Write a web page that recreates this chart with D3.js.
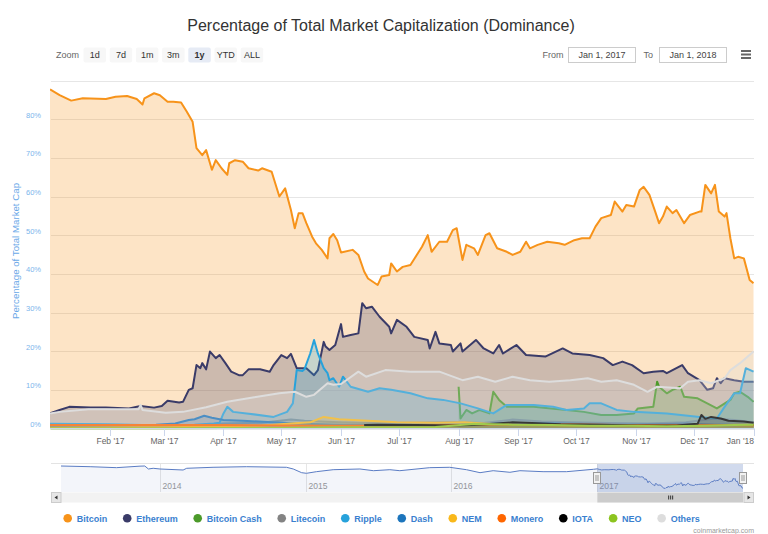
<!DOCTYPE html>
<html><head><meta charset="utf-8">
<script src="https://cdn.jsdelivr.net/npm/d3@7"></script>
<style>
body{margin:0;background:#fff;}
svg{display:block;font-family:"Liberation Sans",Arial,Helvetica,sans-serif;}
</style>
</head><body>
<svg id="c" width="768" height="534"></svg>
<script>
// ---------------- DATA ----------------
const titleText = "Percentage of Total Market Capitalization (Dominance)";
const seriesNames = ["Bitcoin","Ethereum","Bitcoin Cash","Litecoin","Ripple","Dash","NEM","Monero","IOTA","NEO","Others"];
const seriesColors = ["#f7931a","#3a3b68","#4c9a2a","#838383","#27a2db","#1c75bc","#f9b81b","#ff6600","#000000","#8cc41f","#dddddd"];
const zoomButtons = ["1d","7d","1m","3m","1y","YTD","ALL"];
const yTicks = [0,10,20,30,40,50,60,70,80,90];
const navYears = ["2014","2015","2016","2017"];

const bitcoin = [["2017-01-01",87.7],["2017-01-06",86.2],["2017-01-12",84.8],["2017-01-18",85.4],["2017-01-30",85.2],["2017-02-04",85.8],["2017-02-10",86.0],["2017-02-15",85.2],["2017-02-18",83.8],["2017-02-19",85.4],["2017-02-24",86.7],["2017-02-27",86.2],["2017-03-03",84.5],["2017-03-06",84.5],["2017-03-10",84.3],["2017-03-13",81.9],["2017-03-16",79.3],["2017-03-18",72.5],["2017-03-21",70.7],["2017-03-23",72.0],["2017-03-26",66.9],["2017-03-28",69.4],["2017-03-31",67.3],["2017-04-03",65.6],["2017-04-04",68.6],["2017-04-07",69.4],["2017-04-11",69.0],["2017-04-14",67.3],["2017-04-19",66.7],["2017-04-21",67.3],["2017-04-26",66.4],["2017-04-30",60.0],["2017-05-03",62.1],["2017-05-06",56.5],["2017-05-08",51.8],["2017-05-10",55.7],["2017-05-12",55.7],["2017-05-14",53.1],["2017-05-17",49.6],["2017-05-19",47.9],["2017-05-22",46.2],["2017-05-25",44.0],["2017-05-26",49.2],["2017-05-28",50.3],["2017-05-30",48.7],["2017-06-01",45.5],["2017-06-07",46.2],["2017-06-10",44.9],["2017-06-13",40.6],["2017-06-15",38.8],["2017-06-20",37.1],["2017-06-22",39.3],["2017-06-26",39.7],["2017-06-27",42.7],["2017-06-30",40.6],["2017-07-03",41.8],["2017-07-07",42.3],["2017-07-13",47.0],["2017-07-16",50.0],["2017-07-18",45.7],["2017-07-22",48.3],["2017-07-26",48.3],["2017-07-29",51.3],["2017-07-31",51.8],["2017-08-03",43.6],["2017-08-05",47.5],["2017-08-09",46.6],["2017-08-11",44.9],["2017-08-15",50.0],["2017-08-17",50.5],["2017-08-21",46.6],["2017-08-26",45.7],["2017-08-29",44.9],["2017-09-02",45.7],["2017-09-05",48.3],["2017-09-07",46.6],["2017-09-11",47.5],["2017-09-16",48.3],["2017-09-22",47.9],["2017-09-25",47.5],["2017-09-30",48.7],["2017-10-04",49.2],["2017-10-08",49.2],["2017-10-11",52.2],["2017-10-14",54.4],["2017-10-19",55.2],["2017-10-21",58.7],["2017-10-25",56.1],["2017-10-27",57.8],["2017-10-31",57.4],["2017-11-03",61.7],["2017-11-05",62.5],["2017-11-08",60.4],["2017-11-11",56.1],["2017-11-13",53.1],["2017-11-15",54.8],["2017-11-17",57.4],["2017-11-20",55.7],["2017-11-22",56.5],["2017-11-26",53.1],["2017-11-29",55.2],["2017-12-04",56.1],["2017-12-05",56.1],["2017-12-07",63.0],["2017-12-10",60.8],["2017-12-12",63.0],["2017-12-14",56.1],["2017-12-17",54.8],["2017-12-18",55.7],["2017-12-20",49.2],["2017-12-22",44.0],["2017-12-24",44.4],["2017-12-27",44.0],["2017-12-30",38.4],["2018-01-01",37.6]];

const ethereum = [["2017-01-01",3.9],["2017-01-06",4.8],["2017-01-11",5.6],["2017-01-22",5.4],["2017-01-30",5.4],["2017-02-11",5.2],["2017-02-17",5.8],["2017-02-24",5.4],["2017-02-28",5.8],["2017-03-03",7.2],["2017-03-09",6.7],["2017-03-11",6.9],["2017-03-14",10.0],["2017-03-16",10.4],["2017-03-18",16.4],["2017-03-20",15.6],["2017-03-21",16.9],["2017-03-23",15.3],["2017-03-25",19.9],["2017-03-28",18.2],["2017-03-30",19.0],["2017-04-02",16.9],["2017-04-05",14.7],["2017-04-09",13.8],["2017-04-11",13.8],["2017-04-14",15.3],["2017-04-20",15.3],["2017-04-25",14.7],["2017-04-27",16.4],["2017-05-01",19.0],["2017-05-04",18.2],["2017-05-06",19.3],["2017-05-09",15.6],["2017-05-14",15.6],["2017-05-18",13.8],["2017-05-20",15.1],["2017-05-23",22.4],["2017-05-24",21.2],["2017-05-26",20.3],["2017-05-29",21.6],["2017-06-01",27.0],["2017-06-02",23.7],["2017-06-06",24.2],["2017-06-10",24.6],["2017-06-12",32.4],["2017-06-14",31.1],["2017-06-17",31.5],["2017-06-21",28.9],["2017-06-26",26.3],["2017-06-27",24.6],["2017-06-30",28.1],["2017-07-05",26.3],["2017-07-09",23.7],["2017-07-16",22.9],["2017-07-17",20.7],["2017-07-20",25.0],["2017-07-22",22.0],["2017-07-28",21.6],["2017-07-29",19.9],["2017-08-02",22.0],["2017-08-03",19.9],["2017-08-10",22.9],["2017-08-14",20.7],["2017-08-19",19.4],["2017-08-22",21.6],["2017-08-24",19.4],["2017-08-31",21.6],["2017-09-05",19.0],["2017-09-15",18.6],["2017-09-24",20.7],["2017-09-29",19.4],["2017-10-08",19.0],["2017-10-15",18.2],["2017-10-20",16.4],["2017-10-25",17.3],["2017-10-30",16.4],["2017-11-05",14.3],["2017-11-10",14.7],["2017-11-15",14.9],["2017-11-17",14.3],["2017-11-25",16.4],["2017-11-28",14.3],["2017-12-04",12.5],["2017-12-08",10.0],["2017-12-11",10.4],["2017-12-13",13.0],["2017-12-15",11.7],["2017-12-17",13.0],["2017-12-22",12.5],["2017-12-27",12.1],["2018-01-01",12.1]];

const bitcoinCash = [["2017-08-01",10.8],["2017-08-02",2.6],["2017-08-05",4.8],["2017-08-08",3.9],["2017-08-12",4.8],["2017-08-17",3.9],["2017-08-19",9.5],["2017-08-22",7.4],["2017-08-26",5.6],["2017-09-02",5.6],["2017-09-09",5.6],["2017-09-18",5.2],["2017-09-26",4.8],["2017-10-05",4.3],["2017-10-14",3.5],["2017-10-22",3.5],["2017-10-31",3.9],["2017-11-02",5.2],["2017-11-10",5.6],["2017-11-12",12.1],["2017-11-13",10.8],["2017-11-17",9.1],["2017-11-20",10.0],["2017-11-24",10.8],["2017-11-26",8.2],["2017-12-03",7.8],["2017-12-08",6.5],["2017-12-13",5.2],["2017-12-20",7.4],["2017-12-22",9.1],["2017-12-25",9.5],["2017-12-29",8.2],["2018-01-01",6.9]];

const litecoin = [["2017-01-01",1.0],["2017-01-31",0.9],["2017-03-02",0.8],["2017-03-22",1.0],["2017-04-01",1.3],["2017-04-21",1.5],["2017-05-06",2.3],["2017-05-13",2.0],["2017-05-21",1.8],["2017-05-31",1.6],["2017-06-20",1.4],["2017-07-10",1.5],["2017-07-30",1.6],["2017-08-14",1.4],["2017-08-29",2.3],["2017-09-13",1.8],["2017-09-28",1.6],["2017-10-18",1.4],["2017-11-07",1.3],["2017-11-27",1.6],["2017-12-12",2.6],["2017-12-22",2.2],["2018-01-01",1.6]];

const ripple = [["2017-01-01",1.2],["2017-01-31",1.1],["2017-03-02",0.8],["2017-03-17",1.0],["2017-03-27",1.3],["2017-03-30",1.5],["2017-04-01",3.9],["2017-04-03",5.6],["2017-04-06",4.3],["2017-04-13",3.9],["2017-04-27",3.0],["2017-05-04",4.3],["2017-05-07",6.5],["2017-05-09",15.1],["2017-05-12",14.9],["2017-05-13",15.3],["2017-05-16",19.4],["2017-05-18",22.9],["2017-05-20",19.4],["2017-05-23",15.6],["2017-05-25",14.3],["2017-05-26",12.5],["2017-05-28",13.0],["2017-05-31",10.8],["2017-06-02",13.4],["2017-06-06",10.8],["2017-06-15",9.5],["2017-06-21",10.4],["2017-06-27",10.0],["2017-07-07",9.1],["2017-07-16",7.8],["2017-07-24",7.4],["2017-08-02",6.5],["2017-08-11",5.2],["2017-08-19",3.9],["2017-08-26",6.1],["2017-09-09",6.1],["2017-09-19",5.6],["2017-09-26",4.8],["2017-10-05",5.2],["2017-10-08",6.5],["2017-10-14",6.5],["2017-10-22",4.8],["2017-10-31",4.3],["2017-11-17",3.9],["2017-12-04",3.0],["2017-12-13",2.6],["2017-12-17",5.6],["2017-12-22",9.1],["2017-12-25",9.1],["2017-12-28",15.6],["2018-01-01",14.7]];

const dash = [["2017-01-01",0.7],["2017-01-31",0.8],["2017-02-25",1.0],["2017-03-07",1.3],["2017-03-14",2.2],["2017-03-17",2.4],["2017-03-22",3.3],["2017-03-26",2.8],["2017-04-01",2.2],["2017-04-11",2.0],["2017-04-26",1.6],["2017-05-11",1.2],["2017-05-31",1.0],["2017-06-30",1.0],["2017-07-30",1.1],["2017-08-29",1.4],["2017-09-28",1.2],["2017-10-28",1.0],["2017-11-27",1.2],["2017-12-12",1.0],["2018-01-01",0.9]];

const nem = [["2017-01-01",0.2],["2017-03-02",0.3],["2017-04-01",0.5],["2017-04-21",0.8],["2017-05-06",1.3],["2017-05-16",1.6],["2017-05-23",3.0],["2017-05-31",2.4],["2017-06-15",2.0],["2017-06-30",1.6],["2017-07-20",1.5],["2017-08-04",1.6],["2017-08-14",1.3],["2017-09-03",0.9],["2017-10-03",0.7],["2017-11-07",0.6],["2017-12-07",0.8],["2017-12-22",1.0],["2018-01-01",1.0]];

const monero = [["2017-01-01",0.9],["2017-03-02",0.9],["2017-04-01",0.9],["2017-05-01",0.8],["2017-05-31",0.7],["2017-06-30",0.8],["2017-07-30",0.9],["2017-08-29",1.0],["2017-09-28",1.1],["2017-10-28",0.9],["2017-11-27",1.0],["2017-12-17",0.9],["2018-01-01",0.8]];

const iota = [["2017-06-13",0.9],["2017-06-20",1.0],["2017-07-10",0.9],["2017-07-30",0.8],["2017-08-09",0.9],["2017-08-19",1.2],["2017-08-29",1.6],["2017-09-08",1.4],["2017-09-23",1.1],["2017-10-13",1.0],["2017-11-02",0.8],["2017-11-22",0.8],["2017-12-03",1.2],["2017-12-05",3.5],["2017-12-07",2.5],["2017-12-10",3.0],["2017-12-15",2.6],["2017-12-19",2.0],["2017-12-27",1.8],["2018-01-01",1.5]];

const neo = [["2017-01-01",0.05],["2017-03-02",0.05],["2017-04-01",0.1],["2017-05-01",0.15],["2017-05-31",0.3],["2017-06-20",0.3],["2017-07-20",0.4],["2017-07-30",0.8],["2017-08-09",1.2],["2017-08-19",1.1],["2017-08-29",1.0],["2017-09-18",0.9],["2017-10-08",0.7],["2017-10-28",0.7],["2017-11-17",0.6],["2017-12-07",0.7],["2017-12-22",0.9],["2018-01-01",1.0]];

const others = [["2017-01-01",3.9],["2017-01-06",4.3],["2017-01-21",5.0],["2017-02-16",5.0],["2017-02-17",6.1],["2017-02-18",4.8],["2017-03-02",4.1],["2017-03-11",4.3],["2017-03-23",5.5],["2017-04-03",6.9],["2017-04-17",8.1],["2017-04-30",9.1],["2017-05-08",9.5],["2017-05-14",8.2],["2017-05-18",8.7],["2017-05-25",11.7],["2017-05-28",11.3],["2017-06-01",11.5],["2017-06-10",14.7],["2017-06-14",13.4],["2017-06-24",15.1],["2017-07-07",14.7],["2017-07-22",14.7],["2017-08-03",12.5],["2017-08-11",13.4],["2017-08-20",12.1],["2017-08-29",13.4],["2017-09-07",12.5],["2017-09-17",12.1],["2017-09-28",12.5],["2017-10-07",13.0],["2017-10-14",12.1],["2017-10-22",12.5],["2017-10-31",11.3],["2017-11-07",9.5],["2017-11-12",10.8],["2017-11-24",10.4],["2017-11-28",12.1],["2017-12-04",12.5],["2017-12-10",11.7],["2017-12-17",13.0],["2017-12-20",15.1],["2017-12-25",16.9],["2018-01-01",19.9]];

// Bitcoin dominance history shown in the navigator (before the selected year)
const navigatorHistory = [["2013-04-28",95.0],["2013-07-10",93.2],["2013-09-14",90.7],["2013-11-12",94.6],["2013-11-24",95.0],["2013-12-03",87.3],["2013-12-15",89.1],["2014-01-01",87.3],["2014-02-28",84.7],["2014-03-09",89.1],["2014-05-14",91.7],["2014-08-06",93.2],["2014-11-14",91.7],["2014-12-01",87.3],["2014-12-22",77.8],["2015-01-03",76.2],["2015-01-28",80.4],["2015-03-11",85.5],["2015-05-17",87.3],["2015-06-20",82.9],["2015-07-31",85.5],["2015-08-25",82.9],["2015-11-08",90.7],["2015-12-28",91.7],["2016-02-08",85.5],["2016-03-13",77.8],["2016-04-15",82.9],["2016-05-27",78.8],["2016-06-21",82.9],["2016-08-18",80.4],["2016-10-16",80.4],["2016-12-22",86.5]];

const seriesData = [bitcoin, ethereum, bitcoinCash, litecoin, ripple, dash, nem, monero, iota, neo, others];

// ---------------- DRAW ----------------
const parse = d3.timeParse("%Y-%m-%d");
const svg = d3.select("#c");
const font = '"Liberation Sans",Arial,Helvetica,sans-serif';

// title
svg.append("text").attr("x",381).attr("y",31).attr("text-anchor","middle")
  .attr("font-size",16).attr("fill","#333").text(titleText);

// range selector
svg.append("text").attr("x",56).attr("y",58).attr("font-size",9).attr("fill","#666").text("Zoom");
zoomButtons.forEach((b,i)=>{
  const bx = 83.5 + i*26.2;
  const sel = b==="1y";
  svg.append("rect").attr("x",bx).attr("y",47.5).attr("width",22.5).attr("height",15).attr("rx",2)
    .attr("fill", sel ? "#e6ebf5" : "#f7f7f7");
  svg.append("text").attr("x",bx+11.25).attr("y",58).attr("text-anchor","middle")
    .attr("font-size",9).attr("font-weight", sel ? "bold" : "normal").attr("fill","#333").text(b);
});
svg.append("text").attr("x",542.5).attr("y",58).attr("font-size",9).attr("fill","#666").text("From");
svg.append("rect").attr("x",568.5).attr("y",47.5).attr("width",67).attr("height",15).attr("fill","#fff").attr("stroke","#ccc");
svg.append("text").attr("x",602).attr("y",58).attr("text-anchor","middle").attr("font-size",9).attr("fill","#444").text("Jan 1, 2017");
svg.append("text").attr("x",643.5).attr("y",58).attr("font-size",9).attr("fill","#666").text("To");
svg.append("rect").attr("x",659.5).attr("y",47.5).attr("width",67).attr("height",15).attr("fill","#fff").attr("stroke","#ccc");
svg.append("text").attr("x",693).attr("y",58).attr("text-anchor","middle").attr("font-size",9).attr("fill","#444").text("Jan 1, 2018");
[51,54.5,58].forEach(yy=>svg.append("line").attr("x1",741).attr("x2",751).attr("y1",yy).attr("y2",yy).attr("stroke","#666").attr("stroke-width",2));

// scales
const x = d3.scaleTime().domain([new Date(2017,0,1), new Date(2018,0,1)]).range([50,753.5]);
const y = d3.scaleLinear().domain([0,90]).range([428.5,80.5]);

// grid
const grid = svg.append("g");
yTicks.forEach(t=>{
  const yy = Math.round(y(t))+0.5;
  grid.append("line").attr("x1",51).attr("x2",754).attr("y1",yy).attr("y2",yy)
    .attr("stroke","#e6e6e6").attr("stroke-width",1);
  if (t<90) svg.append("text").attr("x",41).attr("y",y(t)-1.5).attr("text-anchor","end")
    .attr("font-size",7.5).attr("fill","#7cb5ec").text(t+"%");
});
svg.append("text").attr("transform","translate(19,251) rotate(-90)").attr("text-anchor","middle")
  .attr("font-size",9.7).attr("fill","#6aa8e8").text("Percentage of Total Market Cap");

// clip
svg.append("defs").append("clipPath").attr("id","clip").append("rect")
  .attr("x",50).attr("y",70).attr("width",704).attr("height",360);
const plot = svg.append("g").attr("clip-path","url(#clip)");

const area = d3.area().x(d=>x(parse(d[0]))).y0(y(0)).y1(d=>y(d[1]));
const line = d3.line().x(d=>x(parse(d[0]))).y(d=>y(d[1]));

seriesData.forEach((data,i)=>{
  plot.append("path").attr("d",area(data)).attr("fill",seriesColors[i]).attr("fill-opacity",0.25);
  plot.append("path").attr("d",line(data)).attr("fill","none").attr("stroke",seriesColors[i])
    .attr("stroke-width",2).attr("stroke-linejoin","round");
});

// x axis
const xAxisG = svg.append("g");
xAxisG.append("line").attr("x1",50).attr("x2",754).attr("y1",428.5).attr("y2",428.5).attr("stroke","#ccd6eb");
const months = d3.timeMonth.range(new Date(2017,1,1), new Date(2018,0,2));
const fmt = d3.timeFormat("%b '%y");
months.forEach(m=>{
  const xx = Math.round(x(m))+0.5;
  xAxisG.append("line").attr("x1",xx).attr("x2",xx).attr("y1",428.5).attr("y2",436).attr("stroke","#ccd6eb");
  const t = xAxisG.append("text").attr("x",xx).attr("y",443.5).attr("text-anchor","middle")
    .attr("font-size",8.5).attr("fill","#666").text(fmt(m));
  const w = t.node().getComputedTextLength();
  if (xx + w/2 > 754) t.attr("text-anchor","end").attr("x",754);
});

// navigator
const nav = svg.append("g");
const nx = d3.scaleTime().domain([parse("2013-04-28"), parse("2018-01-01")]).range([61,743]);
const ny = d3.scaleLinear().domain([37.6,95]).range([488.3,466]);
const navTop = 463.5, navBottom = 492;
navYears.forEach(yr=>{
  const xx = Math.round(nx(parse(yr+"-01-01")))+0.5;
  nav.append("line").attr("x1",xx).attr("x2",xx).attr("y1",navTop).attr("y2",navBottom).attr("stroke","#e6e6e6");
  nav.append("text").attr("x",xx+2).attr("y",489).attr("font-size",8.5).attr("fill","#999").text(yr);
});
const navData = navigatorHistory.concat(bitcoin);
const nArea = d3.area().x(d=>nx(parse(d[0]))).y0(navBottom).y1(d=>ny(d[1]));
const nLine = d3.line().x(d=>nx(parse(d[0]))).y(d=>ny(d[1]));
nav.append("path").attr("d",nArea(navData)).attr("fill","#335cad").attr("fill-opacity",0.06);
nav.append("path").attr("d",nLine(navData)).attr("fill","none").attr("stroke","#5a7cc4").attr("stroke-width",1);
const selL = nx(parse("2017-01-01")), selR = nx(parse("2018-01-01"));
nav.append("rect").attr("x",selL).attr("y",navTop).attr("width",selR-selL).attr("height",navBottom-navTop)
  .attr("fill","rgba(102,133,194,0.3)");
nav.append("line").attr("x1",51).attr("x2",754).attr("y1",navTop).attr("y2",navTop).attr("stroke","#e3e3e3");
// scrollbar
nav.append("rect").attr("x",51).attr("y",492.5).attr("width",703).attr("height",10).attr("fill","#f2f2f2");
nav.append("rect").attr("x",selL).attr("y",492.5).attr("width",selR-selL).attr("height",10).attr("fill","#cccccc");
[-2,0,2].forEach(d=>nav.append("line").attr("x1",(selL+selR)/2+d+0.5).attr("x2",(selL+selR)/2+d+0.5)
  .attr("y1",495.5).attr("y2",499.5).attr("stroke","#333"));
nav.append("rect").attr("x",51.5).attr("y",492.5).attr("width",9.5).attr("height",10).attr("fill","#e6e6e6").attr("stroke","#ccc");
nav.append("path").attr("d","M57.5,495.5 L54.5,497.5 L57.5,499.5 Z").attr("fill","#333");
nav.append("rect").attr("x",744).attr("y",492.5).attr("width",9.5).attr("height",10).attr("fill","#e6e6e6").attr("stroke","#ccc");
nav.append("path").attr("d","M747.5,495.5 L750.5,497.5 L747.5,499.5 Z").attr("fill","#333");
// handles
[selL, selR].forEach(hx=>{
  nav.append("rect").attr("x",Math.round(hx)-3.5).attr("y",472.5).attr("width",7).attr("height",11)
    .attr("fill","#f2f2f2").attr("stroke","#999");
  [-1,1].forEach(d=>nav.append("line").attr("x1",Math.round(hx)+d-0.5+0.5).attr("x2",Math.round(hx)+d)
    .attr("y1",475).attr("y2",481).attr("stroke","#999"));
});

// legend
let lx = 67.7;
seriesNames.forEach((n,i)=>{
  svg.append("circle").attr("cx",lx).attr("cy",518.3).attr("r",4.3).attr("fill",seriesColors[i]);
  const t = svg.append("text").attr("x",lx+9).attr("y",521.6).attr("font-size",9).attr("font-weight","bold")
    .attr("fill","#3a7fcf").text(n);
  lx = lx + 9 + t.node().getComputedTextLength() + 20;
});

// credits
svg.append("text").attr("x",754).attr("y",533).attr("text-anchor","end").attr("font-size",7)
  .attr("fill","#999").text("coinmarketcap.com");
</script>
</body></html>
